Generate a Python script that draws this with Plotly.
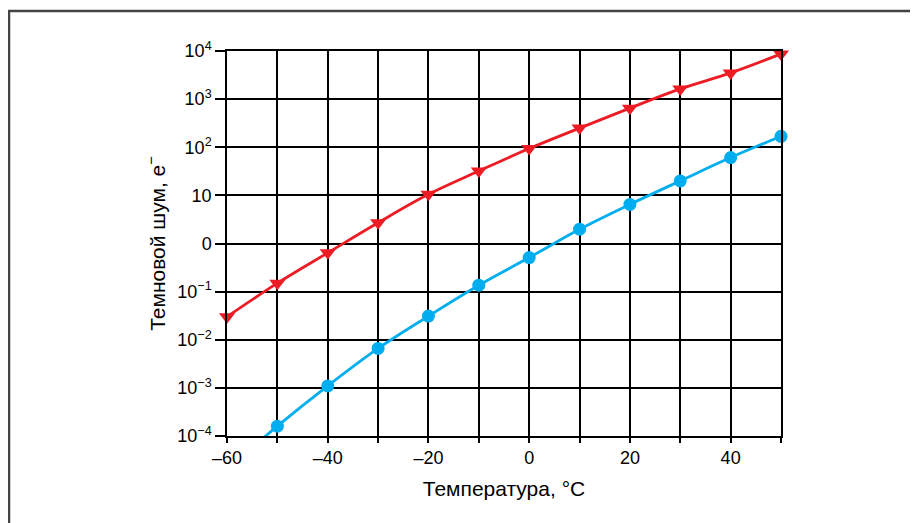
import plotly.graph_objects as go

# Data
temps = [-60, -50, -40, -30, -20, -10, 0, 10, 20, 30, 40, 50]
red_noise = [0.030, 0.15, 0.64, 2.7, 10.5, 32, 94, 250, 650, 1630, 3500, 8700]

blue_temps = [-50, -40, -30, -20, -10, 0, 10, 20, 30, 40, 50]
blue_noise = [1.6e-4, 1.1e-3, 6.6e-3, 0.031, 0.136, 0.51, 1.98, 6.5, 20, 61, 169]
# line continues below the axis toward -60 (estimated, off-chart)
blue_line_temps = [-60] + blue_temps
blue_line_noise = [2.0e-5] + blue_noise

x_ticks = [-60, -50, -40, -30, -20, -10, 0, 10, 20, 30, 40, 50]
x_ticktext = ['–60', '', '–40', '', '–20', '', '0', '', '20', '', '40', '']
y_ticks = [1e-4, 1e-3, 1e-2, 1e-1, 1, 10, 1e2, 1e3, 1e4]
y_ticktext = ['10<sup>−4</sup>', '10<sup>−3</sup>', '10<sup>−2</sup>', '10<sup>−1</sup>',
              '0', '10', '10<sup>2</sup>', '10<sup>3</sup>', '10<sup>4</sup>']

RED = '#ED1C24'
BLUE = '#00AEEF'

fig = go.Figure()
fig.add_trace(go.Scatter(x=temps, y=red_noise, mode='lines+markers',
                         line=dict(color=RED, width=2.8, shape='spline'),
                         marker=dict(symbol='triangle-down', size=14, color=RED),
                         cliponaxis=False, showlegend=False))
fig.add_trace(go.Scatter(x=blue_line_temps, y=blue_line_noise, mode='lines',
                         line=dict(color=BLUE, width=2.8, shape='spline'),
                         showlegend=False))
fig.add_trace(go.Scatter(x=blue_temps, y=blue_noise, mode='markers',
                         marker=dict(symbol='circle', size=13, color=BLUE),
                         cliponaxis=False, showlegend=False))

fig.update_layout(
    width=910, height=515,
    margin=dict(l=219, r=137, t=43, b=87),
    paper_bgcolor='white', plot_bgcolor='white',
    font=dict(family='Liberation Sans, Arial, sans-serif', color='black', size=18),
    shapes=[dict(type='rect', xref='paper', yref='paper',
                 x0=-0.3935, y0=-0.5, x1=1.5, y1=1.104,
                 line=dict(color='#444444', width=2.5), layer='below')],
)
fig.update_xaxes(range=[-60, 50], tickvals=x_ticks, ticktext=x_ticktext,
                 showgrid=True, gridcolor='black', gridwidth=1.5,
                 showline=True, linecolor='black', linewidth=1.5, mirror=True,
                 ticks='outside', ticklen=5, tickcolor='black', tickwidth=1.5,
                 zeroline=False, tickfont=dict(size=18),
                 title=dict(text='Температура, °C', font=dict(size=21), standoff=14))
fig.update_yaxes(type='log', range=[-4, 4], tickvals=y_ticks, ticktext=y_ticktext,
                 showgrid=True, gridcolor='black', gridwidth=1.5,
                 showline=True, linecolor='black', linewidth=1.5, mirror=True,
                 ticks='outside', ticklen=10, tickcolor='black', tickwidth=1.5,
                 zeroline=False, tickfont=dict(size=18),
                 title=dict(text='Темновой шум, e<sup>−</sup>', font=dict(size=21), standoff=6))

fig.write_html('out.html')
